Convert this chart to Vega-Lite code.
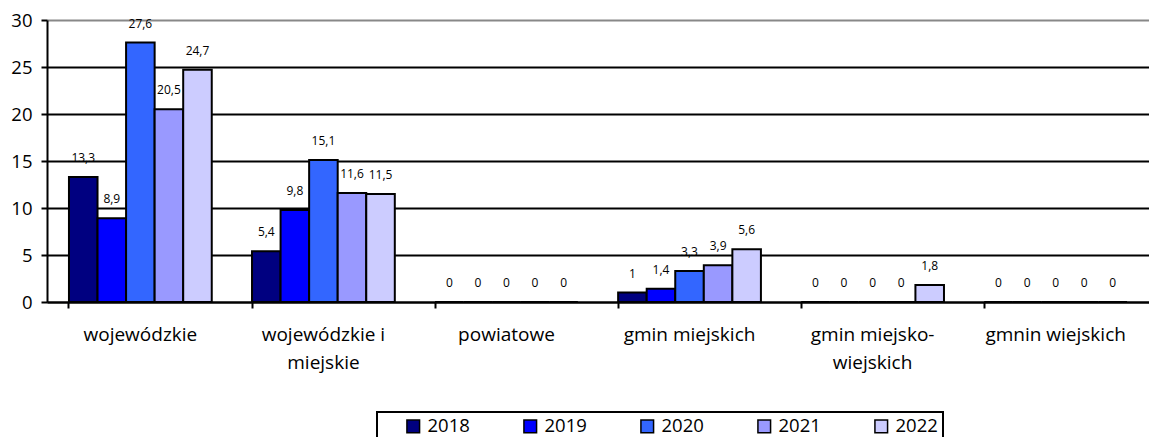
{
  "$schema": "https://vega.github.io/schema/vega-lite/v6.json",
  "autosize": {"type": "none"},
  "padding": {"left": 47, "top": 20, "right": 0, "bottom": 135},
  "width": 1102,
  "height": 282,
  "config": {
    "font": "Open Sans",
    "view": {"stroke": null},
    "legend": {"strokeWidth": 2}
  },
  "data": {
    "values": [
      {"kat": "wojewódzkie", "rok": "2018", "v": 13.3},
      {"kat": "wojewódzkie", "rok": "2019", "v": 8.9},
      {"kat": "wojewódzkie", "rok": "2020", "v": 27.6},
      {"kat": "wojewódzkie", "rok": "2021", "v": 20.5},
      {"kat": "wojewódzkie", "rok": "2022", "v": 24.7},
      {"kat": "wojewódzkie i miejskie", "rok": "2018", "v": 5.4},
      {"kat": "wojewódzkie i miejskie", "rok": "2019", "v": 9.8},
      {"kat": "wojewódzkie i miejskie", "rok": "2020", "v": 15.1},
      {"kat": "wojewódzkie i miejskie", "rok": "2021", "v": 11.6},
      {"kat": "wojewódzkie i miejskie", "rok": "2022", "v": 11.5},
      {"kat": "powiatowe", "rok": "2018", "v": 0},
      {"kat": "powiatowe", "rok": "2019", "v": 0},
      {"kat": "powiatowe", "rok": "2020", "v": 0},
      {"kat": "powiatowe", "rok": "2021", "v": 0},
      {"kat": "powiatowe", "rok": "2022", "v": 0},
      {"kat": "gmin miejskich", "rok": "2018", "v": 1},
      {"kat": "gmin miejskich", "rok": "2019", "v": 1.4},
      {"kat": "gmin miejskich", "rok": "2020", "v": 3.3},
      {"kat": "gmin miejskich", "rok": "2021", "v": 3.9},
      {"kat": "gmin miejskich", "rok": "2022", "v": 5.6},
      {"kat": "gmin miejsko-wiejskich", "rok": "2018", "v": 0},
      {"kat": "gmin miejsko-wiejskich", "rok": "2019", "v": 0},
      {"kat": "gmin miejsko-wiejskich", "rok": "2020", "v": 0},
      {"kat": "gmin miejsko-wiejskich", "rok": "2021", "v": 0},
      {"kat": "gmin miejsko-wiejskich", "rok": "2022", "v": 1.8},
      {"kat": "gmnin wiejskich", "rok": "2018", "v": 0},
      {"kat": "gmnin wiejskich", "rok": "2019", "v": 0},
      {"kat": "gmnin wiejskich", "rok": "2020", "v": 0},
      {"kat": "gmnin wiejskich", "rok": "2021", "v": 0},
      {"kat": "gmnin wiejskich", "rok": "2022", "v": 0}
    ]
  },
  "encoding": {
    "x": {
      "field": "kat", "type": "nominal", "sort": null,
      "scale": {"paddingInner": 0.22, "paddingOuter": 0.12},
      "axis": {
        "title": null, "labelAngle": 0, "bandPosition": 0,
        "domainColor": "black", "domainWidth": 2,
        "tickColor": "black", "tickWidth": 2, "tickSize": 6,
        "labelFontSize": 19, "labelColor": "black", "labelPadding": 17,
        "labelLineHeight": 28, "labelBaseline": "top",
        "labelExpr": "datum.label == 'wojewódzkie i miejskie' ? ['wojewódzkie i', 'miejskie'] : datum.label == 'gmin miejsko-wiejskich' ? ['gmin miejsko-', 'wiejskich'] : datum.label"
      }
    },
    "xOffset": {"field": "rok", "type": "nominal", "scale": {"paddingInner": 0, "paddingOuter": 0}},
    "y": {
      "field": "v", "type": "quantitative",
      "scale": {"domain": [0, 30], "nice": false},
      "axis": {
        "title": null, "values": [0, 5, 10, 15, 20, 25, 30],
        "domainColor": "black", "domainWidth": 2,
        "tickColor": "black", "tickWidth": 2, "tickSize": 6,
        "labelFontSize": 18.5, "labelColor": "black", "labelPadding": 9,
        "gridColor": {"condition": {"test": "datum.value == 30", "value": "#888888"}, "value": "black"},
        "gridWidth": 2, "gridOpacity": 1
      }
    }
  },
  "layer": [
    {
      "mark": {"type": "bar", "stroke": "black", "strokeWidth": 2},
      "encoding": {
        "color": {
          "field": "rok", "type": "nominal",
          "scale": {"domain": ["2018", "2019", "2020", "2021", "2022"], "range": ["#000080", "#0000FF", "#3366FF", "#9999FF", "#CCCCFF"]},
          "legend": {
            "title": null, "orient": "none", "legendX": 330, "legendY": 392,
            "direction": "horizontal", "columns": 5,
            "strokeColor": "black", "padding": 5,
            "symbolType": "square", "symbolSize": 160, "symbolStrokeColor": "black", "symbolStrokeWidth": 1.5,
            "symbolOffset": 22,
            "labelFontSize": 18.5, "labelColor": "black", "labelOffset": 5,
            "columnPadding": 29
          }
        }
      }
    },
    {
      "transform": [{"calculate": "replace(format(datum.v, '.1~f'), '.', ',')", "as": "lbl"}],
      "mark": {"type": "text", "dy": -19, "baseline": "middle", "fontSize": 12, "color": "black"},
      "encoding": {
        "text": {"field": "lbl", "type": "nominal"}
      }
    }
  ]
}
